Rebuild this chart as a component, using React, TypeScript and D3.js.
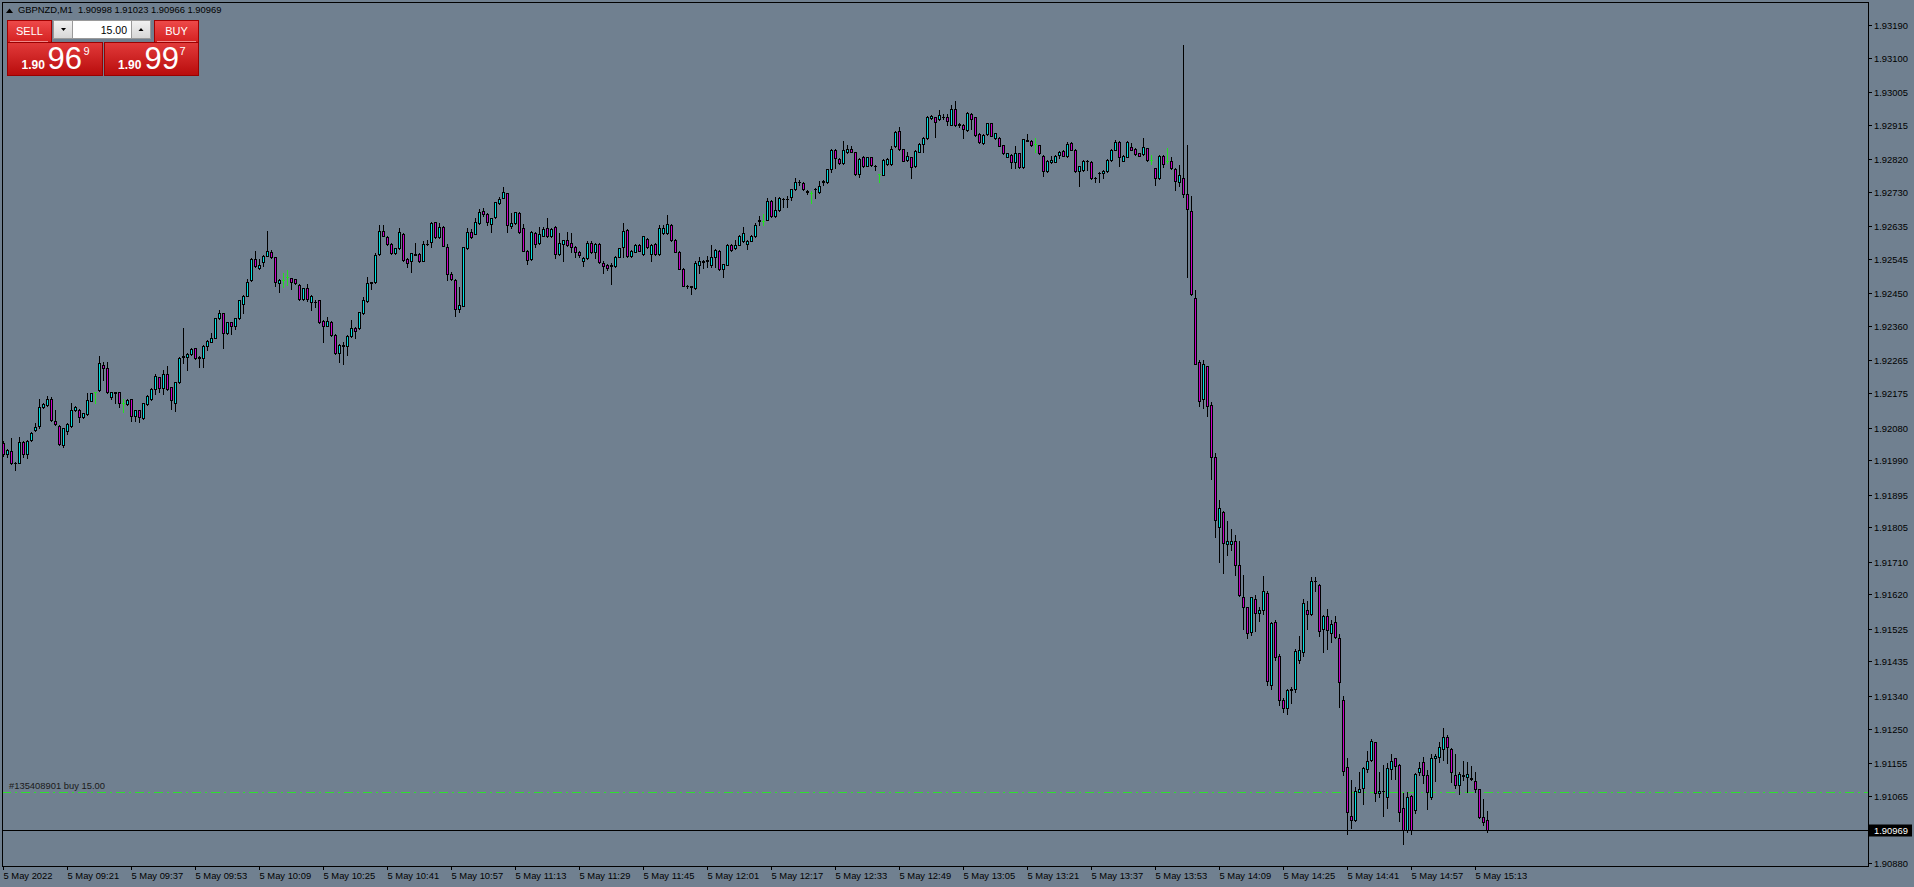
import React from "react";
import * as d3 from "d3";

// ---------- data ----------
const symbolTitle = "GBPNZD,M1";
const headerQuote = ["1.90998", "1.91023", "1.90966", "1.90969"];
const dayLabel = "5 May";
const firstLabel = "5 May 2022";
const startMinute = 9 * 60 + 5; // first bar 09:05
const timeLabelEvery = 16;
const currentPrice = 1.90969;
const tradePrice = 1.91075;
const tradeLabel = "#135408901 buy 15.00";
const lotSize = "15.00";
const sellQuote = ["1.90", "96", "9"];
const buyQuote = ["1.90", "99", "7"];
const priceTicks = [
  1.9319, 1.931, 1.93005, 1.92915, 1.9282, 1.9273, 1.92635, 1.92545, 1.9245,
  1.9236, 1.92265, 1.92175, 1.9208, 1.9199, 1.91895, 1.91805, 1.9171, 1.9162,
  1.91525, 1.91435, 1.9134, 1.9125, 1.91155, 1.91065, 1.9088,
];
const priceDomain = [1.9088, 1.9319];

// M1 candles: [open, high, low, close] in points (price x 1e5)
const candles: number[][] = [
  [192038,192044,192001,192006],[192006,192020,192000,192018],[192015,192050,191979,191981],[191981,191986,191963,191983],
  [191983,192055,191981,192041],[192041,192044,192000,192006],[192006,192046,191995,192043],[192046,192069,192044,192064],
  [192073,192092,192071,192082],[192085,192158,192078,192136],[192136,192147,192133,192144],[192141,192167,192139,192160],
  [192160,192165,192099,192101],[192098,192128,192087,192089],[192085,192087,192032,192034],[192032,192080,192027,192078],
  [192071,192092,192062,192089],[192085,192147,192082,192128],[192128,192138,192126,192136],[192128,192130,192094,192108],
  [192108,192121,192106,192119],[192117,192174,192115,192156],[192154,192176,192152,192174],[192177,192179,192147,192177],
  [192183,192277,192182,192259],[192252,192262,192211,192243],[192243,192260,192175,192177],[192165,192179,192159,192177],
  [192176,192178,192147,192178],[192177,192179,192136,192149],[192149,192160,192122,192149],[192144,192158,192142,192156],
  [192158,192160,192099,192113],[192113,192128,192099,192127],[192127,192128,192096,192108],[192105,192149,192104,192147],
  [192144,192169,192142,192167],[192158,192188,192156,192185],[192185,192228,192172,192222],[192218,192220,192179,192188],
  [192188,192239,192172,192228],[192228,192251,192183,192185],[192191,192193,192131,192156],[192149,192206,192126,192205],
  [192205,192275,192202,192273],[192275,192354,192257,192277],[192274,192285,192240,192283],[192283,192298,192280,192297],
  [192298,192300,192269,192271],[192273,192277,192248,192275],[192273,192307,192248,192306],[192306,192320,192294,192319],
  [192317,192340,192315,192326],[192328,192383,192326,192381],[192381,192404,192379,192397],[192395,192397,192298,192340],
  [192340,192372,192338,192370],[192370,192372,192337,192361],[192361,192383,192353,192381],[192381,192433,192379,192432],
  [192420,192445,192395,192444],[192444,192489,192442,192482],[192487,192548,192485,192546],[192546,192568,192524,192526],
  [192519,192546,192517,192528],[192537,192556,192525,192554],[192554,192622,192552,192567],[192563,192569,192547,192549],
  [192549,192551,192471,192480],[192478,192489,192453,192487],[192487,192505,192467,192487],[192496,192514,192473,192496],
  [192491,192493,192462,192482],[192489,192490,192476,192478],[192473,192475,192432,192434],[192434,192466,192432,192464],
  [192466,192475,192430,192434],[192425,192445,192404,192444],[192425,192432,192413,192427],[192432,192433,192368,192370],
  [192374,192376,192317,192361],[192361,192386,192359,192374],[192372,192374,192333,192335],[192335,192337,192283,192285],
  [192285,192309,192260,192308],[192306,192317,192254,192308],[192305,192335,192280,192333],[192333,192376,192331,192355],
  [192355,192357,192326,192347],[192355,192399,192353,192398],[192395,192441,192393,192432],[192429,192496,192427,192478],
  [192478,192482,192462,192480],[192480,192562,192478,192556],[192558,192638,192557,192623],[192623,192638,192607,192609],
  [192606,192608,192584,192586],[192586,192588,192558,192560],[192560,192576,192558,192574],[192574,192631,192572,192618],
  [192615,192617,192540,192542],[192546,192548,192523,192535],[192539,192562,192508,192560],[192557,192588,192555,192559],
  [192558,192560,192537,192539],[192540,192595,192538,192585],[192585,192597,192583,192587],[192592,192647,192579,192645],
  [192646,192648,192604,192606],[192606,192645,192604,192634],[192634,192636,192580,192581],[192577,192586,192487,192503],
  [192503,192510,192488,192489],[192487,192489,192388,192407],[192407,192468,192399,192418],[192416,192579,192414,192577],
  [192574,192629,192572,192618],[192618,192627,192604,192606],[192615,192659,192613,192646],[192643,192682,192641,192673],
  [192676,192685,192662,192668],[192668,192671,192639,192646],[192641,192659,192618,192657],[192660,192703,192658,192701],
  [192699,192717,192697,192710],[192714,192743,192712,192729],[192726,192728,192620,192639],[192637,192671,192630,192643],
  [192643,192675,192641,192673],[192671,192673,192617,192619],[192630,192641,192566,192568],[192568,192570,192530,192542],
  [192544,192621,192542,192619],[192616,192618,192579,192586],[192588,192634,192586,192613],[192609,192634,192607,192627],
  [192630,192657,192606,192608],[192608,192629,192606,192627],[192634,192636,192547,192558],[192558,192616,192556,192588],
  [192586,192598,192538,192596],[192596,192620,192580,192582],[192588,192616,192563,192577],[192579,192581,192551,192563],
  [192565,192567,192549,192556],[192540,192549,192526,192547],[192547,192593,192545,192590],[192590,192593,192561,192563],
  [192563,192588,192547,192586],[192586,192588,192533,192536],[192533,192538,192507,192526],[192527,192531,192515,192519],
  [192526,192533,192475,192528],[192526,192553,192524,192551],[192551,192576,192550,192574],[192579,192643,192551,192623],
  [192625,192627,192550,192553],[192554,192570,192551,192567],[192565,192586,192563,192584],[192584,192586,192566,192568],
  [192558,192608,192556,192607],[192600,192602,192575,192577],[192558,192586,192538,192584],[192586,192588,192556,192558],
  [192558,192639,192556,192631],[192616,192639,192614,192631],[192616,192666,192614,192641],[192639,192641,192595,192597],
  [192597,192599,192563,192565],[192565,192567,192516,192518],[192518,192519,192469,192471],[192471,192473,192464,192470],
  [192469,192471,192448,192468],[192464,192538,192462,192535],[192527,192551,192506,192540],[192538,192542,192519,192537],
  [192540,192553,192524,192541],[192527,192584,192524,192549],[192549,192572,192524,192570],[192567,192569,192515,192518],
  [192517,192532,192494,192530],[192529,192586,192527,192584],[192584,192586,192568,192570],[192574,192597,192573,192584],
  [192584,192610,192582,192608],[192593,192632,192591,192616],[192586,192597,192572,192595],[192595,192610,192593,192608],
  [192607,192643,192605,192639],[192650,192662,192639,192652],[192650,192669,192639,192650],[192653,192712,192651,192705],
  [192705,192707,192660,192662],[192662,192715,192660,192680],[192680,192717,192678,192712],[192710,192712,192688,192709],
  [192710,192719,192689,192711],[192717,192739,192708,192737],[192737,192767,192735,192758],[192756,192763,192749,192758],
  [192754,192756,192735,192737],[192729,192735,192724,192731],[192726,192731,192699,192726],[192737,192741,192712,192739],
  [192729,192761,192727,192747],[192758,192762,192749,192760],[192758,192794,192754,192792],[192792,192847,192784,192846],
  [192846,192847,192797,192824],[192821,192823,192807,192809],[192809,192869,192807,192846],[192841,192859,192837,192848],
  [192848,192855,192839,192841],[192839,192841,192777,192778],[192778,192823,192772,192821],[192827,192829,192799,192801],
  [192802,192827,192800,192825],[192825,192827,192802,192804],[192800,192804,192790,192802],[192778,192779,192756,192778],
  [192777,192820,192775,192818],[192806,192823,192804,192821],[192806,192855,192804,192848],[192855,192898,192853,192896],
  [192898,192909,192845,192847],[192847,192849,192814,192816],[192818,192841,192816,192830],[192825,192827,192767,192798],
  [192800,192845,192798,192843],[192841,192864,192839,192862],[192861,192880,192841,192878],[192878,192939,192876,192937],
  [192933,192941,192931,192939],[192935,192937,192882,192922],[192930,192956,192928,192942],[192935,192945,192931,192937],
  [192937,192945,192915,192926],[192914,192970,192913,192959],[192959,192981,192911,192913],[192914,192919,192910,192916],
  [192914,192916,192878,192903],[192901,192949,192899,192947],[192945,192947,192903,192930],[192935,192937,192885,192887],
  [192889,192891,192865,192867],[192864,192889,192862,192887],[192889,192921,192887,192919],[192919,192921,192883,192885],
  [192878,192893,192876,192892],[192878,192880,192855,192857],[192858,192860,192834,192836],[192827,192838,192825,192836],
  [192832,192834,192797,192813],[192812,192857,192795,192838],[192836,192838,192796,192798],[192798,192877,192796,192875],
  [192871,192890,192869,192873],[192870,192872,192856,192858],[192861,192878,192841,192861],[192858,192860,192834,192836],
  [192829,192831,192774,192788],[192788,192818,192786,192816],[192812,192829,192810,192818],[192813,192831,192811,192829],
  [192832,192843,192823,192841],[192843,192845,192828,192830],[192829,192866,192827,192862],[192864,192866,192844,192846],
  [192846,192847,192786,192788],[192788,192801,192747,192800],[192789,192818,192787,192816],[192816,192818,192790,192814],
  [192813,192815,192765,192767],[192767,192771,192758,192769],[192781,192785,192756,192783],[192781,192790,192767,192788],
  [192788,192820,192786,192818],[192818,192847,192816,192846],[192846,192873,192844,192866],[192868,192870,192802,192827],
  [192816,192831,192814,192829],[192827,192869,192825,192867],[192853,192864,192844,192846],[192848,192850,192832,192834],
  [192836,192838,192829,192830],[192834,192878,192832,192853],[192850,192852,192816,192818],[192818,192832,192807,192818],
  [192795,192797,192749,192767],[192768,192831,192766,192829],[192829,192831,192799,192807],[192815,192850,192809,192815],
  [192814,192827,192792,192797],[192794,192796,192736,192760],[192758,192805,192747,192777],[192768,193134,192716,192725],
  [192725,192858,192495,192683],[192677,192718,192445,192447],[192436,192458,192254,192256],[192262,192267,192138,192154],
  [192160,192267,192135,192254],[192249,192251,192112,192140],[192142,192151,191938,191998],[191998,192009,191778,191824],
  [191805,191880,191708,191857],[191846,191849,191678,191761],[191760,191822,191728,191767],[191758,191799,191741,191767],
  [191767,191785,191672,191700],[191700,191767,191615,191617],[191614,191672,191525,191586],[191584,191586,191501,191514],
  [191517,191614,191508,191612],[191608,191619,191519,191569],[191569,191584,191547,191577],[191577,191671,191566,191628],
  [191625,191628,191370,191380],[191370,191545,191360,191542],[191544,191550,191440,191448],[191450,191455,191315,191328],
  [191330,191335,191295,191306],[191306,191360,191290,191356],[191356,191365,191320,191358],[191360,191470,191350,191464],
  [191440,191506,191430,191467],[191460,191606,191450,191597],[191578,191603,191525,191567],[191567,191667,191564,191658],
  [191658,191667,191628,191656],[191647,191649,191506,191520],[191524,191562,191460,191560],[191560,191580,191469,191522],
  [191513,191549,191488,191538],[191543,191560,191499,191503],[191499,191510,191309,191379],[191329,191340,191122,191133],
  [191143,191168,190959,191019],[191009,191108,190977,190998],[190998,191090,190996,191078],[191076,191129,191074,191084],
  [191087,191143,191041,191140],[191138,191189,191129,191161],[191162,191220,191160,191216],[191212,191214,191051,191072],
  [191072,191131,191060,191078],[191078,191150,191010,191077],[191061,191154,191030,191140],[191138,191180,191111,191161],
  [191168,191170,191111,191148],[191150,191152,190996,191019],[191030,191072,190931,190969],[190969,191074,190964,191061],
  [191065,191067,190959,190969],[191024,191127,191018,191124],[191129,191157,191122,191140],[191157,191171,191099,191122],
  [191122,191136,191028,191076],[191061,191180,191056,191168],[191168,191179,191106,191174],[191171,191212,191157,191198],
  [191193,191251,191162,191228],[191228,191232,191154,191198],[191193,191195,191102,191129],[191122,191180,191085,191093],
  [191093,191131,191069,191124],[191122,191161,191108,191120],[191116,191159,191076,191124],[191113,191148,191108,191110],
  [191106,191129,191074,191083],[191083,191084,191003,191007],[191007,191056,190984,190991],[190998,191023,190966,190969],
];

// ---------- styles ----------
const BG = "#708090";
const BULL = "#00e0e0";
const BEAR = "#c800c8";
const DOJI = "#22e022";
const FONT = "'Liberation Sans', Arial, sans-serif";
const LABEL_SIZE = 9.4;

const W = 1914;
const H = 887;
const frame = { left: 2, top: 2, right: 1868, bottom: 866 };

function pad2(n: number) {
  return n < 10 ? "0" + n : String(n);
}

export default function App() {
  const y = d3.scaleLinear().domain(priceDomain).range([862.7, 25]);
  const x = d3
    .scaleLinear()
    .domain([0, candles.length - 1])
    .range([3, 3 + 4 * (candles.length - 1)]);

  const marks: React.ReactNode[] = [];
  candles.forEach((row, i) => {
    const [o, h, l, c] = row;
    const cx = Math.round(x(i));
    const yo = Math.round(y(o / 1e5));
    const yc = Math.round(y(c / 1e5));
    const yh = Math.round(y(h / 1e5));
    const yl = Math.round(y(l / 1e5));
    if (o === c) {
      marks.push(
        <g key={i} fill={DOJI}>
          <rect x={cx} y={yh} width={1} height={yl - yh + 1} />
          <rect x={cx - 1} y={yo} width={3} height={1} />
        </g>
      );
      return;
    }
    const top = Math.min(yo, yc);
    const bot = Math.max(yo, yc);
    marks.push(
      <g key={i}>
        <rect x={cx} y={yh} width={1} height={yl - yh + 1} fill="#000" />
        <rect x={cx - 1} y={top} width={3} height={bot - top + 1} fill="#000" />
        {bot - top >= 2 && (
          <rect x={cx} y={top + 1} width={1} height={bot - top - 1} fill={c > o ? BULL : BEAR} />
        )}
      </g>
    );
  });

  const timeLabels: { i: number; text: string }[] = [];
  for (let i = 0; i < candles.length; i += timeLabelEvery) {
    const m = startMinute + i;
    const text = i === 0 ? firstLabel : `${dayLabel} ${pad2(Math.floor(m / 60))}:${pad2(m % 60)}`;
    timeLabels.push({ i, text });
  }

  const yCur = Math.round(y(currentPrice)) + 0.5;
  const yTrade = Math.round(y(tradePrice)) + 0.5;

  return (
    <div style={{ position: "fixed", left: 0, top: 0, width: W, height: H, background: BG }}>
      <svg width={W} height={H} style={{ display: "block" }} fontFamily={FONT}>
        <defs>
          <linearGradient id="redBox" x1="0" y1="0" x2="0" y2="1">
            <stop offset="0" stopColor="#e23a3a" />
            <stop offset="1" stopColor="#b80c0c" />
          </linearGradient>
          <linearGradient id="redHead" x1="0" y1="0" x2="0" y2="1">
            <stop offset="0" stopColor="#ee4a4a" />
            <stop offset="1" stopColor="#d42020" />
          </linearGradient>
          <linearGradient id="btn" x1="0" y1="0" x2="0" y2="1">
            <stop offset="0" stopColor="#f2f2f2" />
            <stop offset="1" stopColor="#d6d6d6" />
          </linearGradient>
          <clipPath id="plotClip">
            <rect x={frame.left} y={frame.top} width={frame.right - frame.left} height={frame.bottom - frame.top} />
          </clipPath>
        </defs>
        <rect x={0} y={0} width={W} height={H} fill={BG} />

        <g clipPath="url(#plotClip)" shapeRendering="crispEdges">
          {/* trade level */}
          <line x1={frame.left} x2={frame.right} y1={yTrade} y2={yTrade} stroke="#2ee02e" strokeWidth={1} strokeDasharray="9 4 2 4" />
          {/* current price line */}
          <line x1={frame.left} x2={frame.right} y1={yCur} y2={yCur} stroke="#000" strokeWidth={1} />
          {marks}
        </g>

        <text x={9} y={789} fontSize={LABEL_SIZE} fill="#1a1a1a">{tradeLabel}</text>

        {/* frame */}
        <rect
          x={frame.left + 0.5}
          y={frame.top + 0.5}
          width={frame.right - frame.left}
          height={frame.bottom - frame.top}
          fill="none"
          stroke="#000"
          shapeRendering="crispEdges"
        />

        {/* price axis */}
        <g>
          {priceTicks.map((t) => {
            const yy = Math.round(y(t)) + 0.5;
            return (
              <g key={t}>
                <line x1={frame.right} x2={frame.right + 4} y1={yy} y2={yy} stroke="#000" shapeRendering="crispEdges" />
                <text x={frame.right + 6} y={yy + 3.5} fontSize={LABEL_SIZE} fill="#000">
                  {t.toFixed(5)}
                </text>
              </g>
            );
          })}
        </g>
        <rect x={frame.right + 1} y={yCur - 6} width={43} height={12} fill="#000" />
        <text x={frame.right + 6} y={yCur + 3.5} fontSize={LABEL_SIZE} fill="#fff">{currentPrice.toFixed(5)}</text>

        {/* time axis */}
        <g>
          {timeLabels.map(({ i, text }) => {
            const xx = Math.round(x(i)) + 0.5;
            return (
              <g key={i}>
                <line x1={xx} x2={xx} y1={frame.bottom} y2={frame.bottom + 4} stroke="#000" shapeRendering="crispEdges" />
                <text x={xx} y={879} fontSize={LABEL_SIZE} fill="#000">{text}</text>
              </g>
            );
          })}
        </g>

        {/* header */}
        <polygon points="6,13 9.5,8.5 13,13" fill="#000" />
        <text x={18} y={13} fontSize={LABEL_SIZE} fill="#000">{symbolTitle}</text>
        <text x={78} y={13} fontSize={LABEL_SIZE} fill="#000">{headerQuote.join(" ")}</text>

        {/* one-click trading panel */}
        <g>
          <rect x={7.5} y={20.5} width={44} height={22} fill="url(#redHead)" stroke="#a00000" />
          <line x1={10} x2={48} y1={41.5} y2={41.5} stroke="#f08a8a" />
          <text x={29.5} y={35} fontSize={11} fill="#fff" textAnchor="middle">SELL</text>

          <rect x={53.5} y={20.5} width={19} height={18} fill="url(#btn)" stroke="#9a9a9a" />
          <polygon points="61,28 66,28 63.5,31" fill="#000" />
          <rect x={72.5} y={20.5} width={59} height={18} fill="#fff" stroke="#9a9a9a" />
          <text x={127} y={33.5} fontSize={10.5} fill="#000" textAnchor="end">{lotSize}</text>
          <rect x={131.5} y={20.5} width={19} height={18} fill="url(#btn)" stroke="#9a9a9a" />
          <polygon points="138.5,31 143.5,31 141,28" fill="#000" />

          <rect x={154.5} y={20.5} width={44} height={22} fill="url(#redHead)" stroke="#a00000" />
          <line x1={157} x2={196} y1={41.5} y2={41.5} stroke="#f08a8a" />
          <text x={176.5} y={35} fontSize={11} fill="#fff" textAnchor="middle">BUY</text>

          <rect x={7.5} y={42.5} width={95} height={33} fill="url(#redBox)" stroke="#9a0000" />
          <text x={21.5} y={69} fontSize={12} fontWeight="bold" fill="#fff">{sellQuote[0]}</text>
          <text x={47.5} y={68.5} fontSize={31} fill="#fff">{sellQuote[1]}</text>
          <text x={83.5} y={55} fontSize={11} fill="#fff">{sellQuote[2]}</text>

          <rect x={104.5} y={42.5} width={94} height={33} fill="url(#redBox)" stroke="#9a0000" />
          <text x={118} y={69} fontSize={12} fontWeight="bold" fill="#fff">{buyQuote[0]}</text>
          <text x={144.5} y={68.5} fontSize={31} fill="#fff">{buyQuote[1]}</text>
          <text x={179.5} y={55} fontSize={11} fill="#fff">{buyQuote[2]}</text>
        </g>
      </svg>
    </div>
  );
}
